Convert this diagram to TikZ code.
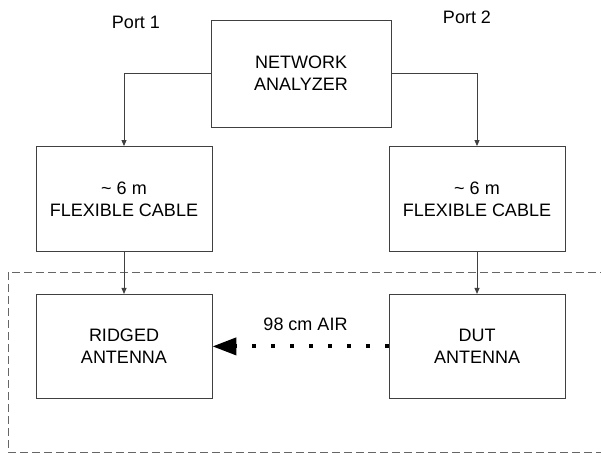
\documentclass[tikz,border=0pt]{standalone}
\usepackage{fontspec}
\setmainfont{Liberation Sans}
\usetikzlibrary{positioning, arrows.meta}

\tikzset{
  block/.style={draw=black!75, line width=0.9pt, minimum width=176pt,
    minimum height=105pt, align=center, font=\fontsize{18}{22}\selectfont},
  feed/.style={draw=black!75, line width=0.9pt,
    -{Triangle[length=6pt, width=5pt]}},
  label/.style={font=\fontsize{18}{22}\selectfont},
}

\begin{document}
\begin{tikzpicture}[x=1pt, y=-1pt]
        \useasboundingbox (0,0) rectangle (601,454);

        % test area
        \draw[draw=black!60, line width=1pt, dash pattern=on 8pt off 4pt]
        (8,272) rectangle (620,452);

        \node[block, minimum width=180pt, minimum height=107pt]
        (analyzer) at (301,73.5) {NETWORK\\ANALYZER};

        \node[block] (cableA) at (124,199) {\textasciitilde{} 6 m\\FLEXIBLE CABLE};
        \node[block] (cableB) at (477,199) {\textasciitilde{} 6 m\\FLEXIBLE CABLE};

        \node[block, below=42pt of cableA, minimum height=104pt]
        (ridged) {RIDGED\\ANTENNA};
        \node[block, below=42pt of cableB, minimum height=104pt]
        (dut) {DUT\\ANTENNA};

        \node[label] (portA) at (136,22) {Port 1};
        \node[label] (portB) at (467,17) {Port 2};

        \draw[feed] (analyzer.west) -| (cableA.north);
        \draw[feed] (analyzer.east) -| (cableB.north);
        \draw[feed] (cableA) -- (ridged);
        \draw[feed] (cableB) -- (dut);

        \draw[black, line width=4pt, dash pattern=on 4pt off 15pt,
        -{Triangle[length=24pt, width=17pt]}]
        (dut.west) -- node[label, above=10pt, xshift=5pt] (air) {98 cm AIR}
        (ridged.east);
      \end{tikzpicture}
\end{document}
